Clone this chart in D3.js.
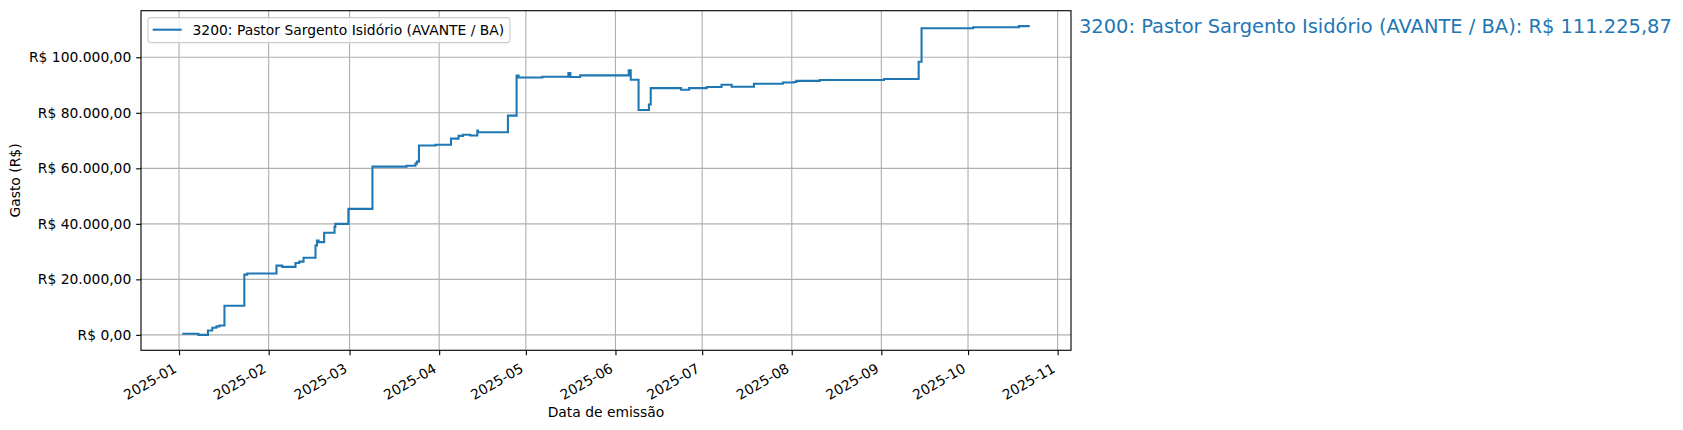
<!DOCTYPE html>
<html>
<head>
<meta charset="utf-8">
<script src="https://cdn.jsdelivr.net/npm/d3@7"></script>
<style>
  html, body { margin: 0; padding: 0; background: #ffffff; }
  svg { display: block; font-family: "DejaVu Sans", sans-serif; }
</style>
</head>
<body>
<svg id="chart" width="1683" height="430"></svg>
<script>
// ---- data ----
const seriesName = "3200: Pastor Sargento Isidório (AVANTE / BA)";
const dates = [
  "2025-01-02T11:00", "2025-01-07T17:00", "2025-01-11T00:00", "2025-01-12T12:00",
  "2025-01-13T22:00", "2025-01-15T00:00", "2025-01-16T17:00", "2025-01-23T14:00",
  "2025-01-24T14:00", "2025-02-03T17:00", "2025-02-05T17:00", "2025-02-10T07:00",
  "2025-02-11T14:00", "2025-02-13T02:00", "2025-02-17T05:00", "2025-02-17T17:00",
  "2025-02-18T07:00", "2025-02-20T05:00", "2025-02-23T19:00", "2025-02-24T02:00",
  "2025-02-28T14:00", "2025-03-08T22:00", "2025-03-20T17:00", "2025-03-23T19:00",
  "2025-03-24T07:00", "2025-03-25T00:00", "2025-03-30T17:00", "2025-04-05T02:00",
  "2025-04-07T17:00", "2025-04-09T05:00", "2025-04-11T19:00", "2025-04-14T05:00",
  "2025-04-14T10:00", "2025-04-24T19:00", "2025-04-27T19:00", "2025-04-28T12:00",
  "2025-05-06T17:00", "2025-05-15T17:00", "2025-05-16T10:00", "2025-05-19T19:00",
  "2025-06-05T14:00", "2025-06-06T07:00", "2025-06-09T00:00", "2025-06-12T14:00",
  "2025-06-13T05:00", "2025-06-23T17:00", "2025-06-26T12:00", "2025-07-02T14:00",
  "2025-07-07T17:00", "2025-07-11T05:00", "2025-07-18T22:00", "2025-07-28T22:00",
  "2025-08-01T17:00", "2025-08-02T14:00", "2025-08-10T17:00", "2025-09-01T22:00",
  "2025-09-13T22:00", "2025-09-14T22:00", "2025-10-02T19:00", "2025-10-18T14:00",
  "2025-10-22T00:00"
];
const spent = [
  420, 0, 1600, 2550,
  3050, 3400, 10500, 21700,
  22100, 24950, 24500, 25900,
  26400, 27800, 32200, 34000,
  33400, 36800, 38900, 40000,
  45400, 60600, 60900, 61700,
  62400, 68200, 68500, 70700,
  71700, 72100, 71800, 73600,
  73000, 79000, 93400, 92700,
  93000, 94300, 92900, 93500,
  95300, 91900, 81000, 83000,
  88900, 88300, 88900, 89300,
  90100, 89400, 90500, 90900,
  91100, 91500, 91800, 92200,
  98400, 110450, 110850, 111225.87,
  111225.87
];
const yTickValues = [0, 20000, 40000, 60000, 80000, 100000];
const xLabel = "Data de emissão";
const yLabel = "Gasto (R$)";

// ---- setup ----
const W = 1683, H = 430;
const plot = { left: 141, right: 1071, top: 10.7, bottom: 350.3 };
const FS = 13.89;           // 10pt @ 100dpi
const lineColor = "#1f77b4";

const ptBR = d3.formatLocale({ decimal: ",", thousands: ".", grouping: [3], currency: ["R$ ", ""] });
const money = ptBR.format("$,.2f");

const parse = d3.timeParse("%Y-%m-%dT%H:%M");
const data = dates.map((d, i) => ({ date: parse(d), value: spent[i] }));

const xExt = d3.extent(data, d => d.date);
const xSpan = xExt[1] - xExt[0];
const x = d3.scaleTime()
  .domain([new Date(+xExt[0] - 0.05 * xSpan), new Date(+xExt[1] + 0.05 * xSpan)])
  .range([plot.left, plot.right]);

const yExt = d3.extent(data, d => d.value);
const ySpan = yExt[1] - yExt[0];
const y = d3.scaleLinear()
  .domain([yExt[0] - 0.05 * ySpan, yExt[1] + 0.05 * ySpan])
  .range([plot.bottom, plot.top]);

const svg = d3.select("#chart");
svg.append("rect").attr("width", W).attr("height", H).attr("fill", "#ffffff");

const xTicks = d3.timeMonth.range(new Date(2025, 0, 1), new Date(2025, 10, 2));

// grid
const grid = svg.append("g").attr("stroke", "#b0b0b0").attr("stroke-width", 1.11);
grid.selectAll("line.gx").data(xTicks).join("line")
  .attr("x1", d => x(d)).attr("x2", d => x(d))
  .attr("y1", plot.top).attr("y2", plot.bottom);
grid.selectAll("line.gy").data(yTickValues).join("line")
  .attr("x1", plot.left).attr("x2", plot.right)
  .attr("y1", d => y(d)).attr("y2", d => y(d));

// line
const clip = svg.append("clipPath").attr("id", "clip").append("rect")
  .attr("x", plot.left).attr("y", plot.top)
  .attr("width", plot.right - plot.left).attr("height", plot.bottom - plot.top);
const line = d3.line().x(d => x(d.date)).y(d => y(d.value)).curve(d3.curveStepAfter);
svg.append("path").datum(data)
  .attr("clip-path", "url(#clip)")
  .attr("fill", "none").attr("stroke", lineColor)
  .attr("stroke-width", 2.08).attr("stroke-linejoin", "miter").attr("stroke-linecap", "square")
  .attr("d", line);

// axes
const xAxis = d3.axisBottom(x).tickValues(xTicks).tickFormat(d3.timeFormat("%Y-%m"))
  .tickSize(4.86).tickPadding(4.86);
const gx = svg.append("g").attr("transform", `translate(0,${plot.bottom})`).call(xAxis);
gx.select(".domain").remove();
gx.selectAll(".tick line").attr("stroke", "#000").attr("stroke-width", 1.11);
gx.selectAll(".tick text")
  .attr("font-size", FS).attr("fill", "#000")
  .attr("font-family", "DejaVu Sans")
  .attr("text-anchor", "end").attr("dy", null).attr("y", 0)
  .attr("transform", "rotate(-30)");

const yAxis = d3.axisLeft(y).tickValues(yTickValues).tickFormat(money)
  .tickSize(4.86).tickPadding(4.86);
const gy = svg.append("g").attr("transform", `translate(${plot.left},0)`).call(yAxis);
gy.select(".domain").remove();
gy.selectAll(".tick line").attr("stroke", "#000").attr("stroke-width", 1.11);
gy.selectAll(".tick text").attr("font-size", FS).attr("fill", "#000").attr("font-family", "DejaVu Sans");

// frame
svg.append("rect")
  .attr("x", plot.left).attr("y", plot.top)
  .attr("width", plot.right - plot.left).attr("height", plot.bottom - plot.top)
  .attr("fill", "none").attr("stroke", "#000").attr("stroke-width", 1.11);

// align rotated x tick labels: bbox right at tick, bbox top below tick + pad
const labelTop = plot.bottom + 4.86 + 4.86;
gx.selectAll(".tick").each(function (d) {
  const t = d3.select(this).select("text");
  const r = t.node().getBoundingClientRect();
  const tx = x(d);
  const dx = tx - r.right;
  const dy = labelTop - r.top;
  t.attr("transform", `translate(${dx},${dy}) rotate(-30)`);
});

// axis labels
svg.append("text")
  .attr("x", (plot.left + plot.right) / 2).attr("y", 417)
  .attr("text-anchor", "middle").attr("font-size", FS).attr("fill", "#000")
  .text(xLabel);
svg.append("text")
  .attr("transform", `translate(20,${(plot.top + plot.bottom) / 2}) rotate(-90)`)
  .attr("text-anchor", "middle").attr("font-size", FS).attr("fill", "#000")
  .text(yLabel);

// legend
const lg = svg.append("g");
lg.append("rect")
  .attr("x", plot.left + 6.9).attr("y", plot.top + 6.9)
  .attr("width", 362).attr("height", 25).attr("rx", 2.8)
  .attr("fill", "#ffffff").attr("fill-opacity", 0.8)
  .attr("stroke", "#cccccc").attr("stroke-width", 1.11);
lg.append("line")
  .attr("x1", plot.left + 11.7).attr("x2", plot.left + 40.7)
  .attr("y1", plot.top + 19).attr("y2", plot.top + 19)
  .attr("stroke", lineColor).attr("stroke-width", 2.08);
lg.append("text")
  .attr("x", plot.left + 51.5).attr("y", plot.top + 19)
  .attr("dy", "0.35em").attr("font-size", FS).attr("fill", "#000")
  .text(seriesName);

// end annotation
const last = data[data.length - 1];
svg.append("text")
  .attr("x", plot.right + 8).attr("y", y(last.value))
  .attr("dy", "0.35em")
  .attr("font-size", 19.44).attr("fill", lineColor)
  .text(`${seriesName}: ${money(last.value)}`);
</script>
</body>
</html>
